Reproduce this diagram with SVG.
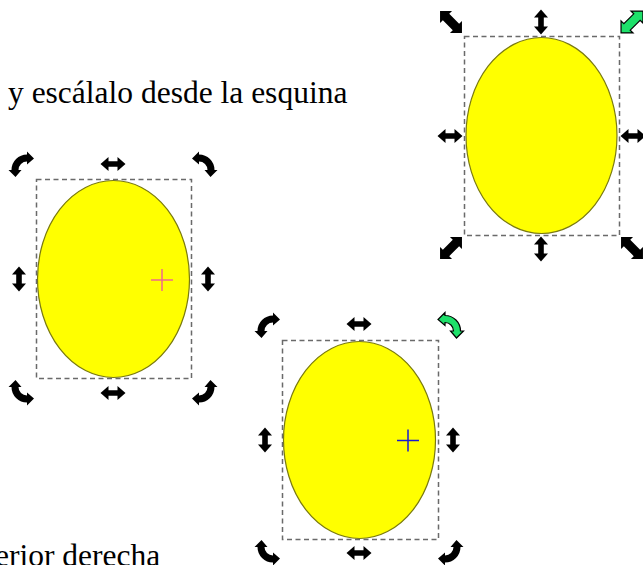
<svg xmlns="http://www.w3.org/2000/svg" xmlns:xlink="http://www.w3.org/1999/xlink" width="643" height="565" viewBox="0 0 643 565">
<style>
.txt{font-family:"Liberation Serif","Times New Roman",serif;font-size:31.5px;fill:#000}
.sel{fill:none;stroke:#6a6a6a;stroke-width:1.5;stroke-dasharray:5 3.5}
.obj{fill:#ffff00;stroke:#7a7a10;stroke-width:1.2}
.h{fill:#000}
.hg{fill:#1ee06a;stroke:#000;stroke-width:1.2}
</style>
<defs>
<polygon id="dbl" points="0,-12.5 7,-4.5 2.8,-4.5 2.8,4.5 7,4.5 0,12.5 -7,4.5 -2.8,4.5 -2.8,-4.5 -7,-4.5"/>
<polygon id="diag" points="0,-15.5 8.5,-7 4.5,-7 4.5,7 8.5,7 0,15.5 -8.5,7 -4.5,7 -4.5,-7 -8.5,-7"/>
<path id="rot" d="M -3.5 5 L -0.5 5 L -6.5 12 L -13.5 5 L -10.5 5 A 15.5 15.5 0 0 1 5 -10.5 L 5 -13.5 L 12 -6.5 L 5 -0.5 L 5 -3.5 A 8.5 8.5 0 0 0 -3.5 5 Z"/>
</defs>

<text class="txt" x="8" y="103">y escálalo desde la esquina</text>
<text class="txt" x="-5" y="566">erior derecha</text>

<g id="obj-scale">
  <ellipse class="obj" cx="541.5" cy="135.5" rx="75.5" ry="98"/>
  <rect class="sel" x="464.5" y="36.5" width="155" height="199"/>
  <use href="#diag" class="h" transform="translate(451,22) rotate(-45)"/>
  <use href="#dbl" class="h" transform="translate(541,22)"/>
  <use href="#diag" class="hg" transform="translate(632,22) rotate(45)"/>
  <use href="#dbl" class="h" transform="translate(450,136) rotate(90)"/>
  <use href="#dbl" class="h" transform="translate(633,136) rotate(90)"/>
  <use href="#diag" class="h" transform="translate(451,248) rotate(45)"/>
  <use href="#dbl" class="h" transform="translate(541,249)"/>
  <use href="#diag" class="h" transform="translate(632,248) rotate(-45)"/>
</g>

<g id="obj-rotate-left">
  <ellipse class="obj" cx="113.5" cy="279" rx="76" ry="98.5"/>
  <rect class="sel" x="36.5" y="179.5" width="155" height="199"/>
  <path d="M151 280 H173 M162 269 V291" stroke="#f06a8c" stroke-width="1.5" fill="none"/>
  <use href="#rot" class="h" transform="translate(22,165)"/>
  <use href="#dbl" class="h" transform="translate(113,164) rotate(90)"/>
  <use href="#rot" class="h" transform="translate(204,165) rotate(90)"/>
  <use href="#dbl" class="h" transform="translate(19,279)"/>
  <use href="#dbl" class="h" transform="translate(208,279)"/>
  <use href="#rot" class="h" transform="translate(22,392) rotate(270)"/>
  <use href="#dbl" class="h" transform="translate(113,393) rotate(90)"/>
  <use href="#rot" class="h" transform="translate(204,392) rotate(180)"/>
</g>

<g id="obj-rotate-bottom">
  <ellipse class="obj" cx="359.5" cy="440" rx="76" ry="98.5"/>
  <rect class="sel" x="282.5" y="340.5" width="156" height="199"/>
  <path d="M397 440.5 H419 M408 429.5 V451.5" stroke="#1a1ad0" stroke-width="1.5" fill="none"/>
  <use href="#rot" class="h" transform="translate(268,326)"/>
  <use href="#dbl" class="h" transform="translate(359,324) rotate(90)"/>
  <use href="#rot" class="hg" transform="translate(450,326) rotate(90)"/>
  <use href="#dbl" class="h" transform="translate(265,440)"/>
  <use href="#dbl" class="h" transform="translate(453,440)"/>
  <use href="#rot" class="h" transform="translate(268,552) rotate(270)"/>
  <use href="#dbl" class="h" transform="translate(359,553) rotate(90)"/>
  <use href="#rot" class="h" transform="translate(450,552) rotate(180)"/>
</g>
</svg>
